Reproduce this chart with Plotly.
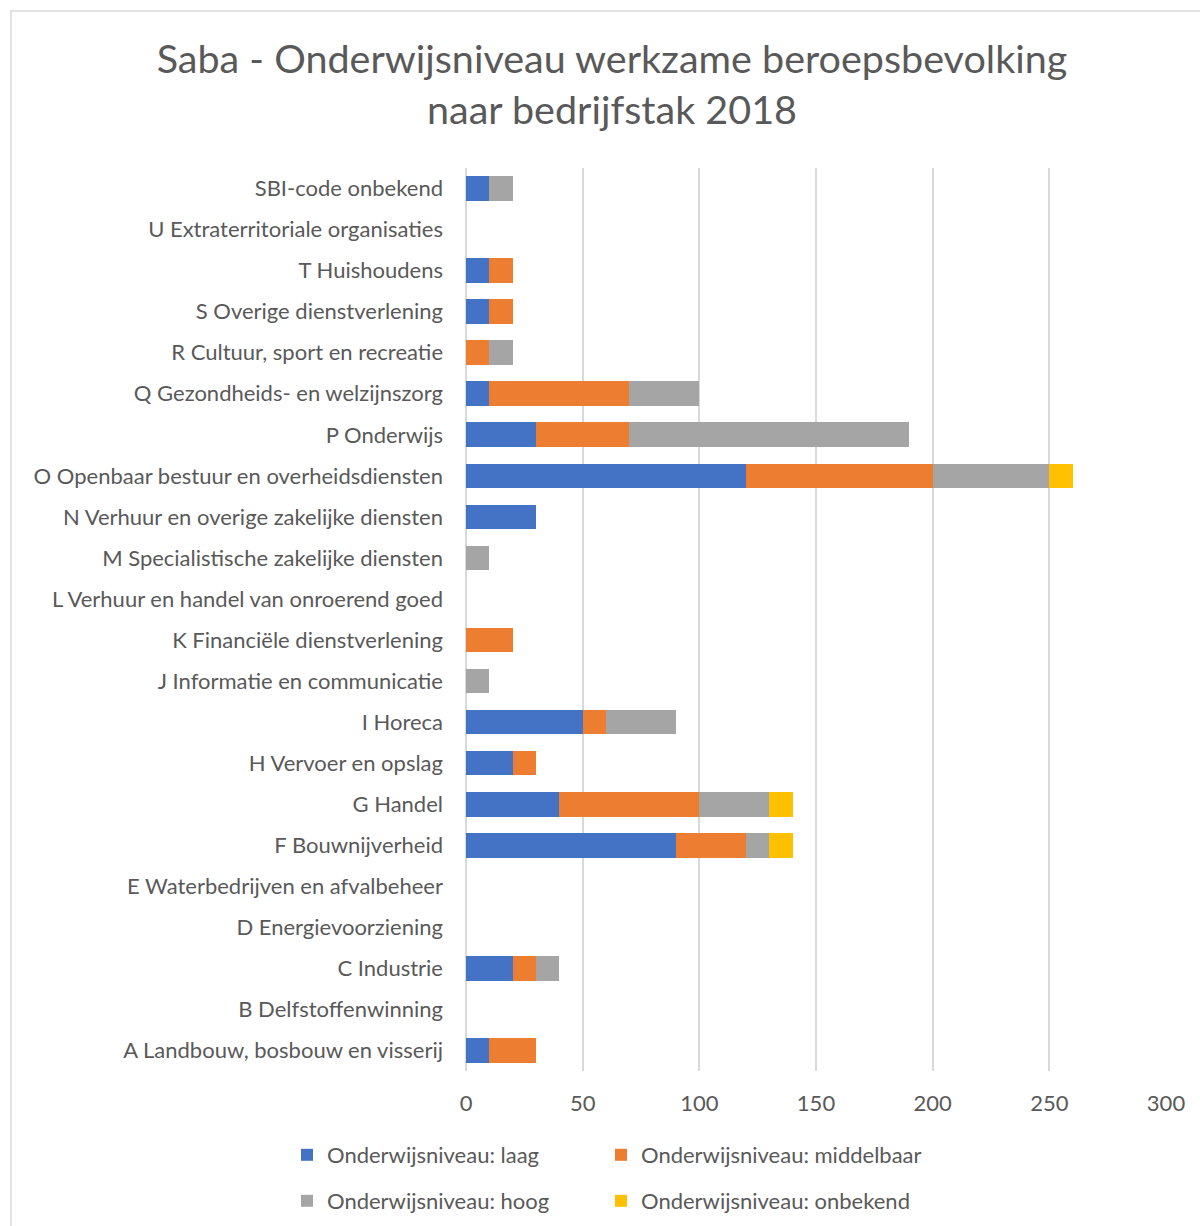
import plotly.graph_objects as go

categories = [
    "A Landbouw, bosbouw en visserij",
    "B Delfstoffenwinning",
    "C Industrie",
    "D Energievoorziening",
    "E Waterbedrijven en afvalbeheer",
    "F Bouwnijverheid",
    "G Handel",
    "H Vervoer en opslag",
    "I Horeca",
    "J Informatie en communicatie",
    "K Financiële dienstverlening",
    "L Verhuur en handel van onroerend goed",
    "M Specialistische zakelijke diensten",
    "N Verhuur en overige zakelijke diensten",
    "O Openbaar bestuur en overheidsdiensten",
    "P Onderwijs",
    "Q Gezondheids- en welzijnszorg",
    "R Cultuur, sport en recreatie",
    "S Overige dienstverlening",
    "T Huishoudens",
    "U Extraterritoriale organisaties",
    "SBI-code onbekend",
]

laag =       [10, 0, 20, 0, 0, 90, 40, 20, 50, 0, 0, 0, 0, 30, 120, 30, 10, 0, 10, 10, 0, 10]
middelbaar = [20, 0, 10, 0, 0, 30, 60, 10, 10, 0, 20, 0, 0, 0, 80, 40, 60, 10, 10, 10, 0, 0]
hoog =       [0, 0, 10, 0, 0, 10, 30, 0, 30, 10, 0, 0, 10, 0, 50, 120, 30, 10, 0, 0, 0, 10]
onbekend =   [0, 0, 0, 0, 0, 10, 10, 0, 0, 0, 0, 0, 0, 0, 10, 0, 0, 0, 0, 0, 0, 0]

series = [
    ("Onderwijsniveau: laag", laag, "#4472C4", "legend"),
    ("Onderwijsniveau: middelbaar", middelbaar, "#ED7D31", "legend2"),
    ("Onderwijsniveau: hoog", hoog, "#A5A5A5", "legend3"),
    ("Onderwijsniveau: onbekend", onbekend, "#FFC000", "legend4"),
]

FONT = "Lato, 'Open Sans', sans-serif"
TXT = "#595959"

fig = go.Figure()
for name, vals, col, leg in series:
    fig.add_trace(go.Bar(
        y=categories, x=vals, name=name, orientation="h", legend=leg,
        marker=dict(color=col, line=dict(width=0)),
    ))

W, H = 1200, 1226
L, R, T, B = 466, 34, 168, 155
pw, ph = W - L - R, H - T - B

def px_x(p):
    return (p - L) / pw

def px_y(p):
    return (H - B - p) / ph

leg_common = dict(
    orientation="h", xanchor="left", yanchor="top",
    font=dict(size=22, color=TXT), itemclick=False, bgcolor="rgba(0,0,0,0)",
)

COL1, COL2 = 287, 601
ROW1, ROW2 = 1134, 1180

fig.update_layout(
    width=W, height=H,
    barmode="stack", bargap=0.4,
    paper_bgcolor="white", plot_bgcolor="white",
    margin=dict(l=L, r=R, t=T, b=B, pad=0, autoexpand=False),
    font=dict(family=FONT, color=TXT, size=22),
    title=dict(
        text="Saba - Onderwijsniveau werkzame beroepsbevolking<br>naar bedrijfstak 2018",
        font=dict(family=FONT, size=39.5, color=TXT),
        x=612 / W, xanchor="center", y=1 - 73 / H, yanchor="middle",
    ),
    xaxis=dict(
        range=[0, 300], dtick=50, showgrid=True, gridcolor="#D9D9D9", gridwidth=1.5,
        zeroline=True, zerolinecolor="#D9D9D9", zerolinewidth=1.5,
        showline=False, ticks="", tickfont=dict(size=22, color=TXT), ticklabelstandoff=17,
        automargin=False,
    ),
    yaxis=dict(
        showgrid=False, zeroline=False, showline=False, ticks="",
        tickfont=dict(size=22, color=TXT), ticklabelstandoff=22,
        range=[-0.5, len(categories) - 0.5], automargin=False,
    ),
    legend=dict(x=px_x(COL1), y=px_y(ROW1), **leg_common),
    legend2=dict(x=px_x(COL2), y=px_y(ROW1), **leg_common),
    legend3=dict(x=px_x(COL1), y=px_y(ROW2), **leg_common),
    legend4=dict(x=px_x(COL2), y=px_y(ROW2), **leg_common),
    showlegend=True,
)

fig.add_shape(
    type="rect", xref="paper", yref="paper",
    x0=px_x(11), x1=px_x(1210), y0=px_y(1240), y1=px_y(11),
    line=dict(color="#D9D9D9", width=1.5), fillcolor="rgba(0,0,0,0)", layer="below",
)

fig.write_html("out.html", config={"displayModeBar": False},
               post_script="document.body.style.margin='0';")
